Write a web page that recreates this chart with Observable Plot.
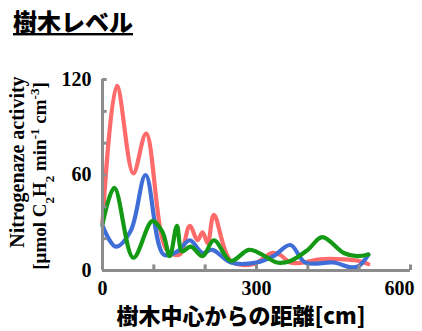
<!DOCTYPE html>
<html>
<head>
<meta charset="utf-8">
<script src="https://cdn.jsdelivr.net/npm/d3@7"></script>
<script src="https://cdn.jsdelivr.net/npm/@observablehq/plot@0.6"></script>
<style>
  html, body { margin: 0; padding: 0; background: #fff; }
  #chart { width: 422px; height: 331px; overflow: hidden; }
</style>
</head>
<body>
<div id="chart"></div>
<script>
// ---- data ----
const titleText = "樹木レベル";
const xTitle = "樹木中心からの距離[cm]";
const yTitle1 = "Nitrogenaze activity";

const xTickLabels = [0, 300];
const xTickLabelsEnd = [600];
const xTickMarks = [0, 100, 200, 300, 400, 500, 600];
const yTickLabels = [0, 60, 120];
const yTickMarks = [0, 20, 40, 60, 80, 100, 120];

const distRed  = [0, 28, 60, 85, 125, 150, 170, 185, 195, 205, 217, 250, 294, 330, 345, 366, 390, 424, 470, 500, 518];
const red      = [30, 116, 61, 86, 13, 10, 28, 19, 24, 17, 35, 6, 4, 11, 10, 5, 5, 7, 7, 6, 4];

const distBlue = [0, 26, 55, 84, 119, 146, 170, 195, 214, 250, 300, 333, 366, 395, 450, 485, 500, 518];
const blue     = [28, 15, 25, 60, 10, 12, 19, 11, 13, 5, 5, 9, 16, 5, 5, 2, 3, 10];

const distGreen = [0, 23, 60, 97, 117, 131, 145, 155, 172, 195, 217, 250, 285, 311, 340, 366, 400, 428, 470, 496, 518];
const green     = [29, 52, 8, 31, 24, 9, 28, 12, 15, 9, 19, 6, 13, 10, 5, 6, 13, 21, 11, 9, 10];

const seriesNames = ["S1", "S2", "S3"];
const seriesColors = ["#ff6a6a", "#3f6fd6", "#139913"];

// ---- build table ----
const rows = [];
[[distRed, red], [distBlue, blue], [distGreen, green]].forEach(([xs, ys], i) => {
  xs.forEach((x, j) => rows.push({series: seriesNames[i], x, y: ys[j]}));
});

const axisGray = "#8c8c8c";
const serif = "'Liberation Serif', 'DejaVu Serif', serif";
const cjk = "'Noto Sans CJK JP', sans-serif";

const plot = Plot.plot({
  width: 422,
  height: 331,
  marginLeft: 102,
  marginRight: 12,
  marginTop: 79,
  marginBottom: 61,
  x: {domain: [0, 600]},
  y: {domain: [0, 120]},
  color: {domain: seriesNames, range: seriesColors},
  style: {fontFamily: serif, fontWeight: "bold", fontSize: "20px", color: "#000", background: "#fff"},
  marks: [
    Plot.line(rows, {x: "x", y: "y", z: "series", stroke: "series", strokeWidth: 4.2, curve: "catmull-rom"}),
    Plot.ruleX([0], {y1: 0, y2: 120, stroke: axisGray, strokeWidth: 3}),
    Plot.ruleY([0], {x1: 0, x2: 600, stroke: axisGray, strokeWidth: 3}),
    Plot.ruleY(yTickMarks, {x1: 0, x2: 9, stroke: axisGray, strokeWidth: 3}),
    Plot.ruleX(xTickMarks, {y1: 0, y2: 3.5, stroke: axisGray, strokeWidth: 3}),
    Plot.axisY(yTickLabels, {tickSize: 0, tickPadding: 11, label: null, fontSize: 20, fontWeight: "bold"}),
    Plot.axisX(xTickLabels, {tickSize: 0, tickPadding: 10, label: null, fontSize: 20, fontWeight: "bold"}),
    Plot.axisX(xTickLabelsEnd, {tickSize: 0, tickPadding: 10, label: null, fontSize: 20, fontWeight: "bold", textAnchor: "end", dx: 4})
  ]
});

document.getElementById("chart").appendChild(plot);

const svg = d3.select(plot);

// Title (underlined)
svg.append("text")
  .attr("x", 13).attr("y", 31)
  .attr("text-anchor", "start")
  .attr("font-family", cjk).attr("font-weight", 900).attr("font-size", 24)
  .style("text-decoration", "underline")
  .attr("fill", "#000")
  .text(titleText);

// X axis title
svg.append("text")
  .attr("x", 241).attr("y", 324)
  .attr("text-anchor", "middle")
  .attr("font-family", cjk).attr("font-weight", 900).attr("font-size", 22)
  .attr("fill", "#000")
  .text(xTitle);

// Y axis title, line 1
svg.append("text")
  .attr("transform", "translate(24,162) rotate(-90)")
  .attr("text-anchor", "middle")
  .attr("font-family", serif).attr("font-weight", "bold").attr("font-size", 20)
  .attr("fill", "#000")
  .text(yTitle1);

// Y axis title, line 2 with sub/superscripts
const t2 = svg.append("text")
  .attr("transform", "translate(46,176) rotate(-90)")
  .attr("text-anchor", "middle")
  .attr("font-family", serif).attr("font-weight", "bold").attr("font-size", 19)
  .attr("fill", "#000");
const parts = [
  ["[μmol C", 0], ["2", -1], ["H", 0], ["2", -1], [" min", 0], ["-1", 1], [" cm", 0], ["-3", 1], ["]", 0]
];
parts.forEach(([s, k]) => {
  const ts = t2.append("tspan").text(s);
  if (k === -1) ts.attr("baseline-shift", "sub").attr("font-size", 13);
  if (k === 1) ts.attr("baseline-shift", "super").attr("font-size", 13);
});
</script>
</body>
</html>
